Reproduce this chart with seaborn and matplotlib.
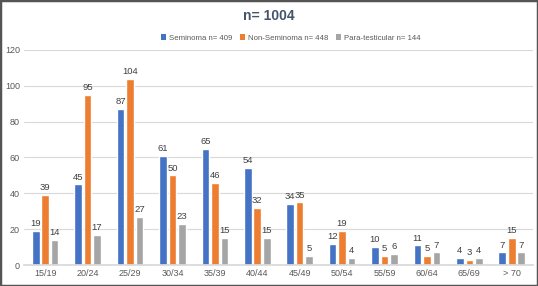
import matplotlib
matplotlib.use("Agg")
import matplotlib.pyplot as plt
import seaborn as sns
import pandas as pd
from matplotlib.patches import Rectangle, Patch

age_groups = ["15/19", "20/24", "25/29", "30/34", "35/39", "40/44", "45/49",
              "50/54", "55/59", "60/64", "65/69", "> 70"]
seminoma = [19, 45, 87, 61, 65, 54, 34, 12, 10, 11, 4, 7]
non_seminoma = [39, 95, 104, 50, 46, 32, 35, 19, 5, 5, 3, 15]
para_testicular = [14, 17, 27, 23, 15, 15, 5, 4, 6, 7, 4, 7]
series_names = ["Seminoma", "Non-Seminoma", "Para-testicular"]
series_n = ["n= 409", "n= 448", "n= 144"]
title = "n= 1004"
colors = ["#4472C4", "#ED7D31", "#A5A5A5"]

rows = []
for name, vals in zip(series_names, [seminoma, non_seminoma, para_testicular]):
    for a, v in zip(age_groups, vals):
        rows.append({"age": a, "count": v, "type": name})
df = pd.DataFrame(rows)

sns.set_theme(style="white")
plt.rcParams["font.family"] = ["Liberation Sans", "DejaVu Sans"]

fig = plt.figure(figsize=(5.38, 2.86), dpi=100)
ax = fig.add_axes([0.0446, 0.0734, 0.946, 0.752])
sns.barplot(data=df, x="age", y="count", hue="type", palette=colors,
            width=0.67, gap=0.2, ax=ax, legend=False, saturation=1,
            order=age_groups, hue_order=series_names)

for cont in ax.containers:
    ax.bar_label(cont, padding=2, fontsize=6.8, color="#404040")

ax.set_ylim(0, 120)
ax.set_yticks(range(0, 121, 20))
ax.set_xlim(-0.5, len(age_groups) - 0.5)
ax.set_xlabel("")
ax.set_ylabel("")
ax.grid(axis="y", color="#D9D9D9", linewidth=0.8)
ax.set_axisbelow(True)
for s in ["top", "right", "left"]:
    ax.spines[s].set_visible(False)
ax.spines["bottom"].set_color("#D9D9D9")
ax.tick_params(axis="both", length=0, labelsize=6.5, colors="#595959", pad=3)

fig.text(0.50, 0.945, title, ha="center", va="center", fontsize=10,
         fontweight="bold", color="#44546A")

handles = [Patch(facecolor=c, edgecolor="none") for c in colors]
labels = [f"{n} {k}" for n, k in zip(series_names, series_n)]
fig.legend(handles, labels, loc="center", bbox_to_anchor=(0.54, 1 - 38 / 286),
           ncol=3, frameon=False, fontsize=5.6, handlelength=0.7, handleheight=0.7,
           handletextpad=0.3, columnspacing=1.0, labelcolor="#595959")

fig.patches.append(Rectangle((0, 0), 1, 1, transform=fig.transFigure,
                             fill=False, edgecolor="#555555", linewidth=2.5))

fig.savefig("out.png", dpi=100)
